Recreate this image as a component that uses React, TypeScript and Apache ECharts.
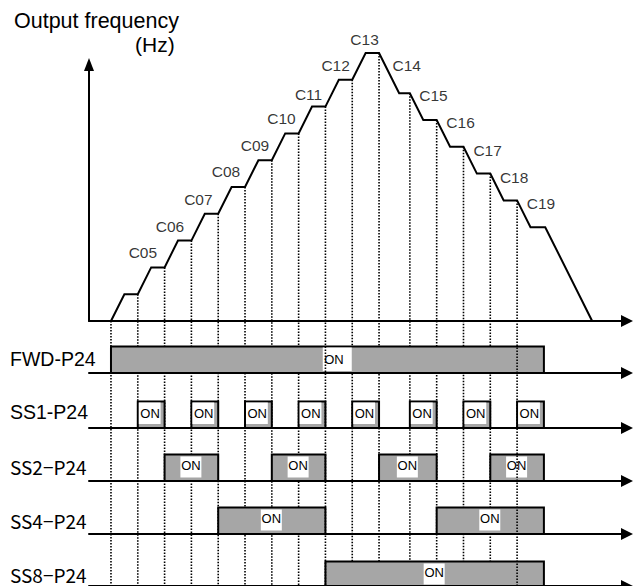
import React, { useEffect, useRef } from "react";
import * as echarts from "echarts";

// ---- data (time in switching steps, frequency in speed levels) ----
const profileTime = [0, 0.5, 1, 1.5, 2, 2.5, 3, 3.5, 4, 4.5, 5, 5.5, 6, 6.5, 7, 7.5, 8, 8.5, 9, 9.5, 10, 10.75, 11.15, 11.65, 12.15, 12.65, 13.15, 13.65, 14.15, 14.65, 15.15, 15.65, 16.2, 17.95];
const profileFreq = [0, 1, 1, 2, 2, 3, 3, 4, 4, 5, 5, 6, 6, 7, 7, 8, 8, 9, 9, 10, 10, 8.5, 8.5, 7.5, 7.5, 6.5, 6.5, 5.5, 5.5, 4.5, 4.5, 3.5, 3.5, 0];

const guideTime = [0, 1, 2, 3, 4, 5, 6, 7, 8, 9, 10, 11.15, 12.15, 13.15, 14.15, 15.15];
const guideFreq = [0, 1, 2, 3, 4, 5, 6, 7, 8, 9, 10, 8.5, 7.5, 6.5, 5.5, 4.5];
const frontGuides = [8, 15.15];

const stepNames = ["C05", "C06", "C07", "C08", "C09", "C10", "C11", "C12", "C13", "C14", "C15", "C16", "C17", "C18", "C19"];
const stepLabelTime = [1.19, 2.2, 3.26, 4.29, 5.37, 6.36, 7.37, 8.38, 9.46, 11.03, 12.03, 13.04, 14.05, 15.04, 16.04];
const stepLabelFreq = [2.57, 3.51, 4.55, 5.56, 6.53, 7.54, 8.47, 9.55, 10.52, 9.55, 8.4, 7.39, 6.38, 5.37, 4.4];

const signalNames = ["FWD-P24", "SS1-P24", "SS2\u2212P24", "SS4\u2212P24", "SS8\u2212P24"];
const fwdOn = [[0, 16.15]];
const ss1On = [[1, 2], [3, 4], [5, 6], [7, 8], [9, 10], [11.15, 12.15], [13.15, 14.15], [15.15, 16.15]];
const ss2On = [[2, 4], [6, 8], [10, 12.15], [14.15, 16.15]];
const ss4On = [[4, 8], [12.15, 16.15]];
const ss8On = [[8, 16.15]];
const fwdTagTime = 7.9;

// ---- layout ----
const T_MIN = -0.82;
const T_MAX = 19.25;
const F_MAX = 9.57;
const GRID_LEFT = 89;
const GRID_RIGHT = 14;
const rowBaselines = [373, 428, 481, 534, 588];
const rowHeight = 26.5;
const rowLabelY = [358.5, 412, 466.5, 520, 574];
const SANS = '"Liberation Sans", Arial, sans-serif';
const CJK = '"Noto Sans CJK JP", sans-serif';

const makePulse = (mode: string) => (params: any, api: any) => {
  const p0 = api.coord([api.value(0), 1]);
  const p1 = api.coord([api.value(1), 0]);
  const x = p0[0], y = p0[1], w = p1[0] - p0[0], h = p1[1] - p0[1];
  let tag: any;
  if (mode === "fill") {
    tag = { x: x + 1, y: y + 1, w: w - 5, h: h - 5, tx: x + 2.5, ty: y + (h - 5) / 2 + 1, align: "left" };
  } else if (mode === "tagAt") {
    const tx0 = api.coord([fwdTagTime, 0])[0];
    tag = { x: tx0, y: y + 1, w: 29, h: h - 3, tx: tx0 + 1.5, ty: y + h / 2 - 0.5, align: "left" };
  } else {
    tag = { x: x + w / 2 - 11, y: y + 2, w: 21, h: 21, tx: x + w / 2 - 0.5, ty: y + 10.5, align: "center" };
  }
  return {
    type: "group",
    children: [
      { type: "rect", shape: { x, y, width: w, height: h }, style: { fill: "#a6a6a6", stroke: "#000", lineWidth: 2 } },
      { type: "rect", shape: { x: tag.x, y: tag.y, width: tag.w, height: tag.h }, style: { fill: "#fff" } },
      {
        type: "text",
        style: {
          text: "ON", x: tag.tx, y: tag.ty, align: tag.align, verticalAlign: "middle",
          textAlign: tag.align, textVerticalAlign: "middle", font: `13px ${SANS}`, fill: "#000",
        },
      },
    ],
  };
};

const guideRender = (params: any, api: any) => {
  const p = api.coord([api.value(0), api.value(1)]);
  return {
    type: "line",
    shape: { x1: p[0], y1: p[1], x2: p[0], y2: api.getHeight() },
    style: { stroke: "#000", lineWidth: 1.6, lineDash: [1.5, 1.5] },
  };
};

function buildOption(): any {
  const axisLine = (size: number[]) => ({
    show: true,
    onZero: false,
    symbol: ["none", "triangle"],
    symbolSize: size,
    lineStyle: { color: "#000", width: 2 },
  });
  const grids: any[] = [{ left: GRID_LEFT, right: GRID_RIGHT, top: 321 - F_MAX * 26.8, height: F_MAX * 26.8 }];
  rowBaselines.forEach((b) => grids.push({ left: GRID_LEFT, right: GRID_RIGHT, top: b - rowHeight, height: rowHeight }));

  const xAxes = grids.map((_, i) => ({
    type: "value", gridIndex: i, min: T_MIN, max: T_MAX,
    axisLine: axisLine([12, 12]), axisTick: { show: false }, axisLabel: { show: false }, splitLine: { show: false },
  }));
  const yAxes = grids.map((_, i) => i === 0
    ? { type: "value", gridIndex: 0, min: 0, max: F_MAX, axisLine: axisLine([10, 13]), axisTick: { show: false }, axisLabel: { show: false }, splitLine: { show: false } }
    : { type: "value", gridIndex: i, min: 0, max: 1, show: false });

  const guidePairs = guideTime.map((t, i) => [t, guideFreq[i]]);
  const signals = [fwdOn, ss1On, ss2On, ss4On, ss8On];
  const modes = ["tagAt", "fill", "center", "center", "center"];

  const series: any[] = [
    {
      type: "custom", xAxisIndex: 0, yAxisIndex: 0, z: 1, silent: true,
      renderItem: guideRender,
      data: guidePairs.filter((p) => !frontGuides.includes(p[0])),
    },
    ...signals.map((sig, i) => ({
      type: "custom", xAxisIndex: i + 1, yAxisIndex: i + 1, z: 2, silent: true,
      renderItem: makePulse(modes[i]), encode: { x: [0, 1] }, data: sig,
    })),
    {
      type: "custom", xAxisIndex: 0, yAxisIndex: 0, z: 3, silent: true,
      renderItem: guideRender,
      data: guidePairs.filter((p) => frontGuides.includes(p[0])),
    },
    {
      type: "line", xAxisIndex: 0, yAxisIndex: 0, z: 4, silent: true, clip: false,
      symbol: "none", lineStyle: { color: "#000", width: 2, join: "miter" },
      data: profileTime.map((t, i) => [t, profileFreq[i]]),
    },
    {
      type: "scatter", xAxisIndex: 0, yAxisIndex: 0, z: 5, silent: true, clip: false,
      symbolSize: 1, itemStyle: { color: "transparent" },
      label: {
        show: true, position: "inside", color: "#000", fontSize: 15.5, fontFamily: SANS,
        formatter: (p: any) => p.value[2],
      },
      data: stepLabelTime.map((t, i) => [t, stepLabelFreq[i], stepNames[i]]),
    },
  ];

  const graphic: any[] = [
    { type: "text", x: 14, y: 20.5, style: { text: "Output frequency", font: `21.5px ${SANS}`, fill: "#000", textVerticalAlign: "middle", verticalAlign: "middle" } },
    { type: "text", x: 135, y: 44, style: { text: "(Hz)", font: `21px ${SANS}`, fill: "#000", textVerticalAlign: "middle", verticalAlign: "middle" } },
    ...signalNames.map((name, i) => ({
      type: "text", x: 10, y: rowLabelY[i],
      style: {
        text: name, font: i < 2 ? `19.5px ${SANS}` : `19px ${CJK}`, fill: "#000",
        textVerticalAlign: "middle", verticalAlign: "middle",
      },
    })),
  ];

  return { animation: false, backgroundColor: "#fff", grid: grids, xAxis: xAxes, yAxis: yAxes, series, graphic };
}

export default function App() {
  const ref = useRef<HTMLDivElement>(null);
  useEffect(() => {
    document.body.style.margin = "0";
    const chart = echarts.init(ref.current as HTMLDivElement, null, { renderer: "svg", width: 641, height: 586 });
    chart.setOption(buildOption());
    return () => chart.dispose();
  }, []);
  return <div ref={ref} style={{ width: 641, height: 586, position: "absolute", left: 0, top: 0 }} />;
}
